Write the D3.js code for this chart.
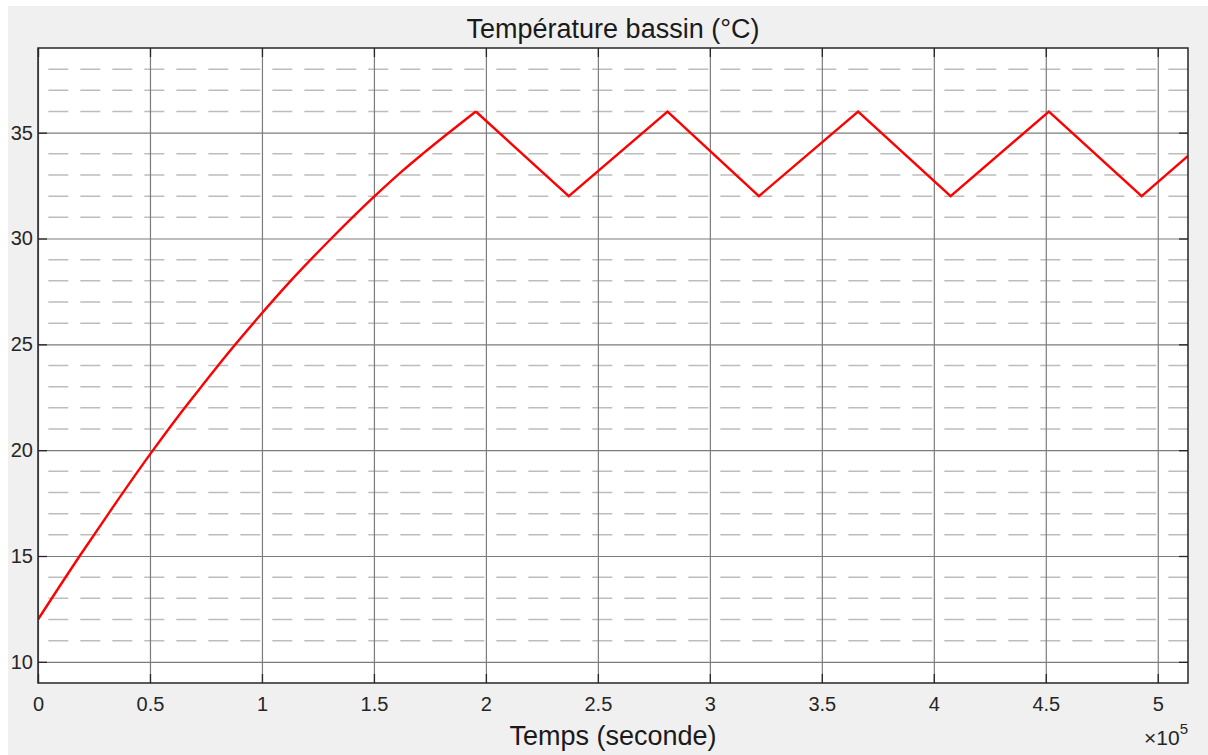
<!DOCTYPE html>
<html>
<head>
<meta charset="utf-8">
<script src="https://cdn.jsdelivr.net/npm/d3@7"></script>
<style>
  body { margin: 0; background: #fff; }
  text { font-family: "Liberation Sans", Arial, sans-serif; }
</style>
</head>
<body>
<div id="svg-container"></div>
<script>
// data: simulated pool temperature vs time (s)
const times = [0, 18600, 32100, 50000, 63300, 75200, 82300, 99000, 112400, 130300,
  149600, 163000, 172000, 195500, 237000, 281100, 321900, 366200, 407500, 451400,
  492800, 513500];
const temps = [12, 15.0, 17.1, 19.8, 21.7, 23.3, 24.25, 26.35, 27.95, 29.93,
  31.93, 33.22, 34.02, 36, 32, 36, 32, 36, 32, 36, 32, 33.9];
const heatUpEnd = 13; // index of the first peak: smooth rise before, thermostat cycles after

const xTicks = [0, 50000, 100000, 150000, 200000, 250000, 300000, 350000, 400000, 450000, 500000];
const yTicks = [10, 15, 20, 25, 30, 35];
const yMinor = [11, 12, 13, 14, 16, 17, 18, 19, 21, 22, 23, 24, 26, 27, 28, 29, 31, 32, 33, 34, 36, 37, 38];

const title = "Température bassin (°C)";
const xLabel = "Temps (seconde)";

////////////////////////////  Init  ///////////////////////////////
const W = 1208, H = 755;
const margin = { top: 48, right: 20, bottom: 72, left: 38 };

const svg = d3.select("#svg-container").append("svg")
  .attr("width", W).attr("height", H);

// figure background
svg.append("rect").attr("x", 8).attr("y", 6).attr("width", W - 8).attr("height", H - 6)
  .attr("fill", "#f0f0f0");

const xScale = d3.scaleLinear().domain([0, 513500]).range([margin.left, W - margin.right]);
const yScale = d3.scaleLinear().domain([9, 39]).range([H - margin.bottom, margin.top]);

const x0 = margin.left, x1 = W - margin.right;
const y0 = H - margin.bottom, y1 = margin.top;

svg.append("rect").attr("x", x0).attr("y", y1).attr("width", x1 - x0).attr("height", y0 - y1)
  .attr("fill", "#fff");

// minor grid (dashed)
svg.append("g").selectAll("line").data(yMinor).join("line")
  .attr("x1", x0).attr("x2", x1)
  .attr("y1", (d) => yScale(d)).attr("y2", (d) => yScale(d))
  .attr("stroke", "#bdbdbd").attr("stroke-width", 1.5)
  .attr("stroke-dasharray", "20 12").attr("stroke-dashoffset", 21.7);

// major grid
svg.append("g").attr("transform", `translate(0, ${y0})`)
  .call(d3.axisBottom(xScale).tickValues(xTicks).tickSize(-(y0 - y1)).tickFormat(""))
  .call((g) => g.select(".domain").remove())
  .call((g) => g.selectAll("line").attr("stroke", "#7c7c7c").attr("stroke-width", 1.2));

svg.append("g").attr("transform", `translate(${x0}, 0)`)
  .call(d3.axisLeft(yScale).tickValues(yTicks).tickSize(-(x1 - x0)).tickFormat(""))
  .call((g) => g.select(".domain").remove())
  .call((g) => g.selectAll("line").attr("stroke", "#7c7c7c").attr("stroke-width", 1.2));

// line
svg.append("clipPath").attr("id", "clip").append("rect")
  .attr("x", x0).attr("y", y1).attr("width", x1 - x0).attr("height", y0 - y1);

const pts = times.map((t, i) => [t, temps[i]]);
const riseLine = d3.line().curve(d3.curveMonotoneX)
  .x((d) => xScale(d[0])).y((d) => yScale(d[1]));
const cycleLine = d3.line()
  .x((d) => xScale(d[0])).y((d) => yScale(d[1]));

const lineG = svg.append("g").attr("clip-path", "url(#clip)")
  .attr("fill", "none").attr("stroke", "#ff0000").attr("stroke-width", 2.4);
lineG.append("path").datum(pts.slice(0, heatUpEnd + 1)).attr("d", riseLine);
lineG.append("path").datum(pts.slice(heatUpEnd)).attr("d", cycleLine);

// axes with inward ticks
const tickColor = "#262626";
function styleAxis(g) {
  g.select(".domain").remove();
  g.selectAll("line").attr("stroke", tickColor).attr("stroke-width", 1.3);
  g.selectAll("text").attr("fill", "#262626").style("font-size", "20px")
    .style("font-family", "'Liberation Sans', Arial, sans-serif");
}

svg.append("g").attr("transform", `translate(0, ${y0})`)
  .call(d3.axisBottom(xScale).tickValues(xTicks).tickSize(-9).tickPadding(14)
    .tickFormat((d) => d3.format("")(d / 1e5)))
  .call(styleAxis);

svg.append("g").attr("transform", `translate(0, ${y1})`)
  .call(d3.axisTop(xScale).tickValues(xTicks).tickSize(-9).tickFormat(""))
  .call(styleAxis);

svg.append("g").attr("transform", `translate(${x0}, 0)`)
  .call(d3.axisLeft(yScale).tickValues(yTicks).tickSize(-9).tickPadding(5))
  .call(styleAxis);

svg.append("g").attr("transform", `translate(${x1}, 0)`)
  .call(d3.axisRight(yScale).tickValues(yTicks).tickSize(-9).tickFormat(""))
  .call(styleAxis);

// box
svg.append("rect").attr("x", x0).attr("y", y1).attr("width", x1 - x0).attr("height", y0 - y1)
  .attr("fill", "none").attr("stroke", tickColor).attr("stroke-width", 1.5);

// texts
svg.append("text").attr("x", (x0 + x1) / 2).attr("y", 38)
  .attr("text-anchor", "middle").attr("fill", "#1a1a1a")
  .style("font-size", "27px").text(title);

svg.append("text").attr("x", (x0 + x1) / 2).attr("y", 745)
  .attr("text-anchor", "middle").attr("fill", "#1a1a1a")
  .style("font-size", "27px").text(xLabel);

const expo = svg.append("text").attr("x", x1).attr("y", 745)
  .attr("text-anchor", "end").attr("fill", "#262626").style("font-size", "21px");
expo.append("tspan").text("×10");
expo.append("tspan").attr("dy", -11).style("font-size", "15px").text("5");
</script>
</body>
</html>
